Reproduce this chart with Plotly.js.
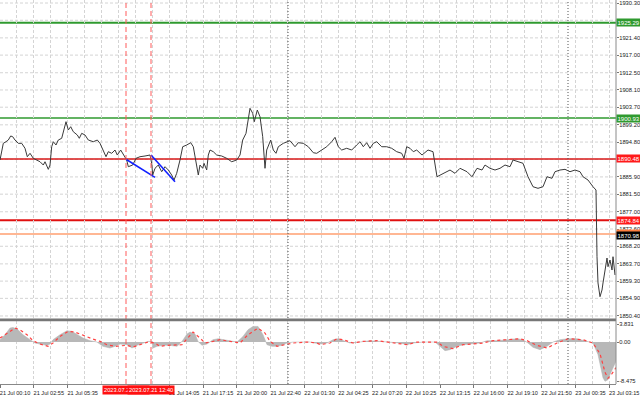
<!DOCTYPE html>
<html><head><meta charset="utf-8">
<script src="https://cdn.plot.ly/plotly-3.0.1.min.js"></script>
<style>html,body{margin:0;padding:0;background:#fff}#c{width:640px;height:400px}</style>
</head><body><div id="c"></div>
<script>
// ---- data ----
const priceIdx = [0,1.7,3.3,6,8.3,10.7,12.7,15,18.3,21.7,25,27.3,30,33.3,36.7,40,43.3,45,48.3,50,51.7,53.3,56,58.3,61.7,64,66,68.3,70.7,73.3,77.3,79.3,81.7,85,88.3,93.3,97.3,100,102.7,106,108.3,111.7,115,117.3,120.7,124,126.7,128.3,132.7,136,140,145,150,151.7,152.7,155,158.3,161.7,165,168.3,171.7,174,176.7,180,182.7,186.7,190.7,193.3,196,198.3,200,202.7,204,206.7,208.3,210,213.3,216.7,221.7,226.7,231.7,236.7,240,242.7,246,248.3,250,252.7,254.3,257.3,260,262.7,265,266.7,270.7,273.3,276,278.3,283.3,290,295,298.3,303.3,308.3,313.3,316.7,321.7,326.7,331.7,335,338.3,341.7,346.7,351.7,356.7,360,363.3,366.7,370,373.3,376.7,381.7,386.7,391.7,396.7,401.7,404,406.7,410,413.3,416.7,422,428,433,437,443,450,455,460,467,472,477,482,485,490,495,500,505,510,513,518,523,528,533,538,543,547,552,555,560,565,570,575,580,583,588,593,596,597,598,600,602,603,605,607,608,610,612,613,615];
const priceVal = [1890.22,1892.77,1894.48,1894.89,1895.32,1896.35,1896.17,1895.32,1894.48,1894.48,1893.21,1891.06,1891.93,1890.65,1890.22,1889.78,1888.94,1889.78,1887.84,1888.94,1893.61,1894.89,1894.05,1895.32,1895.76,1897.88,1900.00,1897.88,1898.72,1897.44,1896.60,1895.76,1897.03,1896.60,1895.32,1894.89,1895.32,1894.48,1892.77,1891.06,1892.34,1891.93,1892.77,1891.49,1892.77,1891.49,1890.22,1888.51,1888.94,1890.65,1891.06,1891.24,1891.49,1889.38,1886.39,1888.10,1888.94,1887.23,1888.51,1887.67,1886.39,1885.11,1886.82,1890.22,1893.61,1894.05,1894.64,1893.61,1890.22,1886.39,1888.94,1888.10,1889.38,1887.67,1891.49,1892.77,1892.34,1891.49,1891.24,1890.65,1889.78,1890.22,1891.49,1895.32,1897.03,1900.43,1903.42,1902.14,1900.00,1902.98,1901.27,1896.17,1888.10,1892.77,1895.32,1892.77,1891.93,1893.61,1894.48,1895.15,1893.61,1894.64,1894.48,1893.61,1892.08,1891.93,1892.77,1893.61,1894.89,1896.01,1893.61,1892.77,1893.21,1892.77,1894.05,1894.89,1893.61,1894.64,1893.21,1894.48,1894.89,1893.61,1893.61,1893.21,1892.34,1891.93,1890.65,1893.61,1893.21,1892.34,1892.77,1891.49,1892.77,1892.34,1885.95,1886.82,1887.66,1886.82,1888.10,1887.23,1885.95,1888.10,1887.66,1888.94,1888.10,1887.66,1888.10,1888.94,1888.51,1890.22,1889.78,1889.38,1885.95,1883.40,1882.99,1883.40,1885.95,1885.55,1887.23,1887.66,1887.84,1887.23,1887.66,1887.23,1885.95,1885.11,1883.40,1882.56,1865.53,1858.82,1855.32,1857.03,1858.82,1862.13,1865.20,1862.98,1864.69,1862.13,1865.53,1860.86];

const histIdx = [0,5,10,13,18,23,30,35,40,47,50,53,60,67,72,77,83,90,97,103,110,115,120,127,132,137,143,148,152,153,157,163,170,177,182,187,190,195,198,202,207,213,218,223,230,237,243,248,253,258,263,267,272,277,282,287,293,300,310,315,320,327,333,338,343,350,360,370,380,390,400,407,413,423,435,440,445,450,457,463,473,480,487,497,507,517,523,528,533,540,547,553,560,568,577,585,593,598,603,605,608,610,613,616];
const histVal = [0.5,1.57,3.0,3.14,2.64,1.57,0.5,-0.21,-0.43,-0.71,-0.43,0.5,1.57,2.43,2.29,1.57,0.86,0.29,0,-0.93,-1.29,-0.93,-0.43,-0.57,-1.29,-0.71,-0.21,0.14,0.14,-1.29,-0.93,-0.71,-0.71,-0.93,0.14,1.71,2.14,1.71,0.14,-0.71,-0.43,0.5,0.71,0.5,0.14,0,1.21,2.64,3.36,3.36,1.57,-0.57,-0.93,-0.93,-0.71,-0.21,0,0,0,-0.21,-0.43,-0.21,0.5,0.71,0.29,-0.21,0,0.29,0.14,0,-0.21,-0.57,-0.21,0,0,-0.93,-1.86,-1.64,-0.93,-0.57,-0.43,-0.21,0.29,0.29,0.5,0.71,0.5,-0.21,-1.14,-1.64,-0.93,0,0.5,0.71,0.71,0.29,-0.21,-2.71,-7.71,-8.45,-8.1,-7.0,-5.57,-4.14];

const sigIdx = [0,7,15,20,27,33,40,48,53,60,68,75,83,92,100,107,115,122,127,133,140,148,155,160,167,173,182,187,193,200,205,213,220,230,240,248,258,265,270,277,287,293,307,317,320,330,337,343,353,363,377,387,397,407,417,437,443,453,463,473,483,493,507,520,527,537,547,557,568,583,593,600,605,608,612,616];
const sigVal = [0.86,1.93,3.0,2.64,1.57,0.29,-0.43,-0.93,-0.21,1.21,2.29,2.14,1.43,0.71,0.14,-0.57,-0.93,-0.79,-0.71,-1.07,-0.57,0,-0.21,-0.93,-0.71,-0.71,-0.57,0.71,2.14,0.86,-0.21,0.14,0.5,0.14,-0.21,1.57,3.0,1.93,0.14,-0.93,-0.57,-0.21,0,-0.21,-0.57,-0.21,0.71,0.5,-0.21,0.14,0.29,0,-0.21,-0.57,0,0,-0.93,-1.43,-0.57,-0.43,-0.21,0.29,0.5,0.71,0.29,-0.71,-1.29,-0.21,0.71,0.5,-0.21,-2.5,-6.5,-7.8,-6.8,-5.5];

const trend1Idx = [126,155], trend1Val = [1890.40,1885.80];
const trend2Idx = [151,175], trend2Val = [1891.49,1884.68];

const levelVals   = [1925.29, 1900.93, 1890.48, 1874.84, 1871.30];
const levelLabels = ["1925.29","1900.93","1890.48","1874.84","1871.30"];
const bidVal = 1870.98, bidLabel = "1870.98";

const vlineIdx = [126, 151];
const vlineLabels = ["2023.07.21 10:35","2023.07.21 12:40"];
const daySepIdx = [288, 568];

const xTickPos  = [0,33.8,67.7,169.2,203,236.9,270.7,304.6,338.4,372.3,406.1,440,473.8,507.7,541.5,575.4,609.2];
const xTickText = ["21 Jul 00:10","21 Jul 02:55","21 Jul 05:35","21 Jul 14:05","21 Jul 17:15","21 Jul 20:00","21 Jul 22:40","22 Jul 01:30","22 Jul 04:25","22 Jul 07:20","22 Jul 10:25","22 Jul 13:15","22 Jul 16:00","22 Jul 19:10","22 Jul 21:50","23 Jul 00:35","23 Jul 03:15"];
const yTickVals = [1930.30,1921.40,1917.00,1912.50,1908.10,1903.70,1899.20,1894.80,1885.90,1881.50,1877.00,1872.60,1868.20,1863.70,1859.30,1854.90,1850.40];
const yGridVals = [1930.30,1925.90,1921.40,1917.00,1912.50,1908.10,1903.70,1899.20,1894.80,1890.40,1885.90,1881.50,1877.00,1872.60,1868.20,1863.70,1859.30,1854.90,1850.40];
const macdTickVals = [3.831, 0, -8.475];
const macdTickText = ["3.831","0.00","-8.475"];

// ---- styles ----
const FONT = "Liberation Sans, Arial, sans-serif";
const levelColors = ["#2f9a2f","#2f9a2f","#d91a1a","#e01010","#ff9f70"];
const levelWidths = [2,1.5,1.5,2,1.5];
const labelBg = ["#2f9a2f","#2f9a2f","#ff1a1a","#ff1a1a","#ff8040"];

const traces = [
  {x: histIdx, y: histVal, xaxis:'x', yaxis:'y2', type:'scatter', mode:'lines', fill:'tozeroy', fillcolor:'#b8b8b8', line:{width:0.5,color:'#b0b0b0'}, hoverinfo:'skip'},
  {x: sigIdx, y: sigVal, xaxis:'x', yaxis:'y2', type:'scatter', mode:'lines', line:{width:1.2,color:'#ff4040',dash:'dot'}, hoverinfo:'skip'},
  {x: priceIdx, y: priceVal, xaxis:'x', yaxis:'y', type:'scatter', mode:'lines', line:{width:1,color:'#3a3a3a'}, hoverinfo:'skip'},
  {x: trend1Idx, y: trend1Val, xaxis:'x', yaxis:'y', type:'scatter', mode:'lines', line:{width:1.6,color:'#1020ff'}, hoverinfo:'skip'},
  {x: trend2Idx, y: trend2Val, xaxis:'x', yaxis:'y', type:'scatter', mode:'lines', line:{width:1.6,color:'#1020ff'}, hoverinfo:'skip'}
];

const shapes = [];
yGridVals.forEach(v=>shapes.push({type:'line', xref:'paper', x0:0, x1:1, yref:'y', y0:v, y1:v, line:{color:'#d4d4d4', width:1, dash:'3px,2px'}, layer:'below'}));
levelVals.forEach((v,i)=>shapes.push({type:'line', xref:'paper', x0:0, x1:1, yref:'y', y0:v, y1:v, line:{color:levelColors[i], width:levelWidths[i]}, layer:'below'}));
vlineIdx.forEach(v=>shapes.push({type:'line', xref:'x', x0:v, x1:v, yref:'paper', y0:0, y1:1, line:{color:'#ff5a5a', width:1, dash:'5px,3px'}}));
daySepIdx.forEach(v=>shapes.push({type:'line', xref:'x', x0:v, x1:v, yref:'paper', y0:0, y1:1, line:{color:'#555', width:1, dash:'1px,2px'}}));
shapes.push({type:'rect', xref:'paper', x0:0, x1:1, yref:'paper', y0:0.1635, y1:0.1705, fillcolor:'#777', line:{width:0}});
shapes.push({type:'line', xref:'paper', x0:1, x1:1, yref:'paper', y0:0, y1:1, line:{color:'#8a8a8a', width:1}});

const annotations = [];
const boxFont = {family:FONT, size:6, color:'#fff'};
levelVals.forEach((v,i)=>{
  annotations.push({xref:'paper', x:1, xanchor:'left', xshift:0, yref:'y', y:v, yanchor:'middle', yshift:(i===4?1:0), text:levelLabels[i], showarrow:false, bgcolor:labelBg[i], borderpad:0.5, font:boxFont});
});
annotations.push({xref:'paper', x:1, xanchor:'left', xshift:0, yref:'y', y:bidVal, yanchor:'middle', yshift:-0.5, text:bidLabel, showarrow:false, bgcolor:'#000', borderpad:0.5, font:boxFont});
vlineIdx.forEach((v,i)=>annotations.push({xref:'x', x:v, xanchor:'center', yref:'paper', y:0, yanchor:'top', yshift:-1, text:vlineLabels[i], showarrow:false, bgcolor:'#ff1010', borderpad:1, font:{family:FONT, size:5.7, color:'#fff'}}));

const tickFont = {family:FONT, size:5.8, color:'#222'};
const layout = {
  width:640, height:400,
  margin:{l:0, r:24, t:0, b:16, pad:0},
  paper_bgcolor:'#fff', plot_bgcolor:'#fff',
  showlegend:false,
  font:{family:FONT, size:6, color:'#222'},
  xaxis:{anchor:'y2', range:[0,616], tickmode:'array', tickvals:xTickPos, ticktext:xTickText, ticklabelshift:15, tickangle:0,
         ticklabeloverflow:'allow',
         ticks:'outside', ticklen:3, tickcolor:'#777', showgrid:false, zeroline:false, showline:true, linecolor:'#888',
         tickfont:{family:FONT, size:5.6, color:'#222'},
         minor:{tickmode:'linear', tick0:0, dtick:16.92, showgrid:true, gridcolor:'#d4d4d4', griddash:'3px,2px', ticks:''}},
  yaxis:{domain:[0.1693,1], range:[1849.63,1931.07], side:'right', tickmode:'array', tickvals:yTickVals,
         ticktext:yTickVals.map(v=>v.toFixed(2)), ticks:'outside', ticklen:2, tickcolor:'#777', ticklabelstandoff:-1,
         ticklabeloverflow:'allow', showgrid:false, zeroline:false, showline:false, tickfont:tickFont},
  yaxis2:{domain:[0,0.164], range:[-9.03,4.52], side:'right', tickmode:'array', tickvals:macdTickVals, ticktext:macdTickText,
          ticks:'outside', ticklen:2, tickcolor:'#777', ticklabelstandoff:-1, ticklabeloverflow:'allow',
          showgrid:false, zeroline:false, showline:false, tickfont:tickFont},
  shapes:shapes, annotations:annotations
};

Plotly.newPlot('c', traces, layout, {staticPlot:true, displayModeBar:false});
</script>
</body></html>
